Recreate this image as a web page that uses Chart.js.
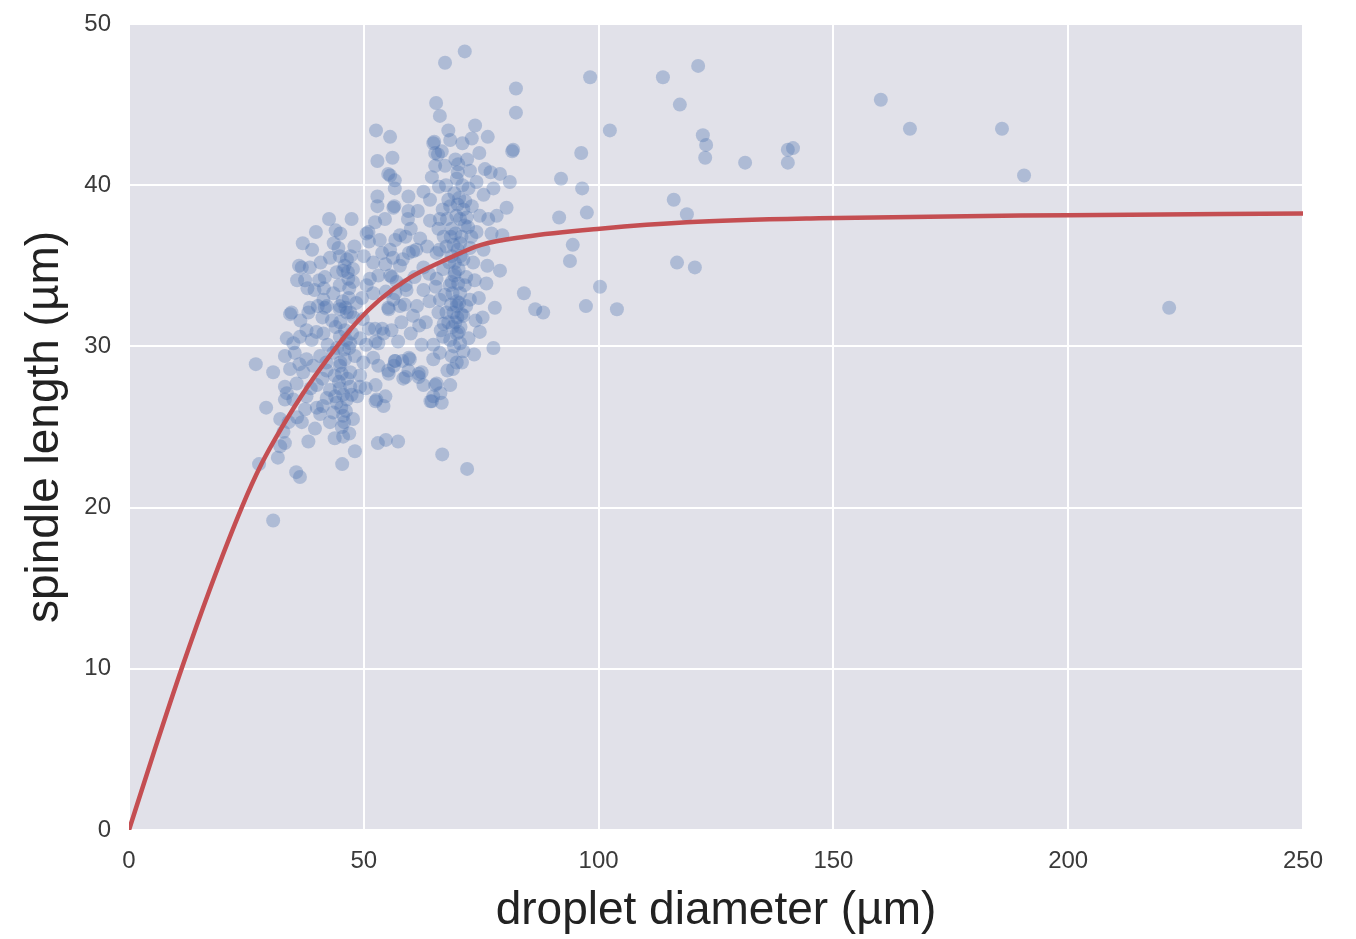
<!DOCTYPE html>
<html>
<head>
<meta charset="utf-8">
<script src="https://cdn.jsdelivr.net/npm/chart.js@4.4.1/dist/chart.umd.min.js"></script>
<style>
  html, body { margin: 0; padding: 0; background: #fff; }
  canvas { display: block; }
</style>
</head>
<body>
<canvas id="spindleChart" width="1356" height="939"></canvas>
<script>
/* ---- data: [droplet diameter µm, spindle length µm] ---- */

// isolated points, away from the main cloud
const outlierPoints = [
  [27.0,28.9],[30.7,28.4],[29.2,26.2],[27.7,22.7],[30.7,19.2],[31.7,23.1],[35.6,22.2],[36.4,21.9],
  [45.4,22.7],[48.1,23.5],[53.0,24.0],[54.7,24.2],[57.3,24.1],[66.7,23.3],[72.0,22.4],
  [71.5,48.3],[67.3,47.6],[65.4,45.1],[66.2,44.3],[52.6,43.4],[55.6,43.0],[73.7,43.7],[76.4,43.0],
  [73.0,42.9],[82.4,46.0],[82.4,44.5],[81.8,42.2],[81.6,42.1],
  [98.2,46.7],[113.7,46.7],[121.2,47.4],[117.3,45.0],[102.4,43.4],[122.2,43.1],[122.9,42.5],[122.7,41.7],
  [96.3,42.0],[131.2,41.4],[140.3,42.2],[141.4,42.3],[140.3,41.4],[160.1,45.3],[166.3,43.5],
  [185.9,43.5],[190.6,40.6],[221.5,32.4],
  [92.0,40.4],[96.5,39.8],[116.0,39.1],[118.8,38.2],[91.6,38.0],[97.5,38.3],[94.5,36.3],[93.9,35.3],
  [84.1,33.3],[86.5,32.3],[88.2,32.1],[97.3,32.5],[100.3,33.7],[103.9,32.3],[116.7,35.2],[120.5,34.9]
];

// left cluster (about 33-53 µm)
const leftCluster = [
  [52.9,41.5],[52.9,39.3],[52.9,38.7],[42.6,37.9],[47.4,37.9],[44.0,37.2],[50.6,37.0],[52.4,37.7],
  [36.8,34.9],[38.5,34.9],[35.8,34.1],[37.5,34.1],[41.7,34.3],[42.8,35.5],[44.9,35.6],[46.4,35.4],
  [47.7,34.8],[45.6,34.7],[44.2,34.6],[46.7,34.2],[47.7,34.0],[44.9,33.8],[43.5,33.3],[41.4,32.9],
  [34.6,32.1],[38.5,32.4],[42.1,32.5],[44.9,32.3],[46.4,32.1],[52.0,35.2],[53.1,34.4],[51.3,34.2],
  [52.0,33.3],[50.6,33.8],
  [34.3,32.0],[38.2,32.1],[41.7,32.4],[44.9,32.5],[47.1,32.1],[33.6,30.5],[36.4,30.6],[38.9,30.4],
  [41.4,30.8],[44.9,30.6],[47.1,30.2],[49.2,30.5],[52.4,31.1],[53.1,30.2],[33.2,29.4],[35.3,29.6],
  [37.8,29.2],[40.7,29.4],[43.5,29.6],[46.0,29.2],[48.1,29.4],[52.0,29.3],[34.3,28.6],[37.1,28.4],
  [42.1,28.5],[44.9,28.8],[47.1,28.4],[49.2,28.2],[53.1,28.8],[33.2,27.5],[35.7,27.7],[40.0,27.6],
  [42.8,27.3],[44.9,27.4],[47.1,27.5],[33.2,26.7],[35.0,26.7],[37.8,26.9],[42.1,26.8],[44.2,26.5],
  [46.4,26.7],[52.7,26.7],[37.5,26.1],[40.7,25.8],[43.5,25.9],[45.6,25.7],[32.2,25.5],[36.8,25.3],
  [39.6,24.9],[42.8,25.3],[45.3,25.0],[32.9,24.7],[45.6,24.4],[38.2,24.1],[32.2,23.8],[33.6,27.1],
  [49.2,27.5],
  [45.0,31.5],[46.0,31.0],[45.5,32.8],[46.8,33.0],[44.0,31.2],[45.8,29.8],[46.5,28.0],[45.2,26.2],
  [46.2,26.0],[44.7,27.8],[47.5,30.8],[43.2,31.6],[45.9,35.0],[46.6,34.6],[44.6,36.1],[47.8,31.8],
  [45.0,29.0],[46.9,29.9],[43.8,28.2],[45.6,27.0],[48.0,36.2],[41.2,31.8],[40.2,32.5],[39.5,33.5],
  [40.5,34.1],[36.5,31.6],[37.8,31.0],[39.9,30.9],[42.3,30.1],[39.2,28.8],[41.2,28.0],[38.7,27.4],
  [36.3,28.9],[35.0,30.2],[42.0,29.0],[43.9,26.9],[41.3,26.3],[40.0,26.2],[47.7,25.5],[46.9,24.6],
  [43.8,24.3],[35.8,25.6],[34.0,25.3],[33.2,24.0],[39.0,36.0],[37.0,36.4],[45.0,37.0],[50.0,35.6],
  [49.6,33.0],[49.8,31.7],[48.4,32.7],[50.5,30.1],[48.6,26.9],[49.9,29.0],
  [46.3,30.4],[45.3,28.3],[46.1,32.4],[47.2,35.6],[44.3,29.9],[47.4,27.0],[45.8,25.3],[46.9,33.6],
  [36.2,35.0],[38.0,33.6],[40.8,35.2],[43.6,36.4],[39.8,37.1],[41.5,33.6]
];

// middle band (about 50-62 µm)
const middleCluster = [
  [56.1,41.7],[55.2,40.7],[56.6,40.3],[56.6,39.8],[59.5,39.3],[56.3,38.6],[59.5,38.4],[54.5,37.9],
  [57.7,36.9],[62.0,36.7],[53.4,36.6],[55.6,36.0],[60.5,35.9],[57.7,35.0],[55.6,34.4],[59.1,33.5],
  [56.3,32.9],[61.3,32.5],[55.2,32.4],[57.7,32.5],[60.5,31.9],[58.0,31.5],[54.2,30.8],[56.6,29.1],
  [59.8,29.2],[55.2,28.5],[59.5,28.5],[58.4,28.0],[54.2,26.3],[55.6,40.6],[56.5,38.7],[51.0,37.1],
  [51.1,36.5],[56.7,36.6],[58.9,36.8],[59.6,35.8],[53.9,35.8],[54.6,35.1],[56.0,34.3],[58.9,33.8],
  [56.7,33.3],[55.3,32.3],[51.1,31.1],[53.9,31.1],[52.5,30.3],[56.7,29.1],[59.6,29.3],[58.9,28.1],
  [52.5,27.6],[54.6,26.9],[52.5,26.6],[50.4,27.4],[58.2,29.1],[61.7,28.3],[56.4,28.8],[55.3,28.3],
  [60.0,37.3],[61.2,36.0],[58.3,35.4],[57.0,34.0],[60.8,34.3],[58.7,32.6],[60.0,30.8],[57.3,30.3],
  [61.8,31.3],[55.9,31.0],[56.2,35.5],[54.7,33.4],[59.4,37.9],[61.5,38.4]
];

// right cluster (about 62-82 µm)
const rightCluster = [
  [64.8,42.6],[68.4,42.8],[66.6,42.1],[65.2,42.0],[74.6,42.0],[65.2,41.2],[67.3,41.2],[70.1,41.3],
  [72.6,40.9],[64.5,40.5],[69.8,40.4],[74.0,40.2],[79.0,40.7],[81.1,40.2],[77.6,39.8],[62.7,39.6],
  [64.1,39.1],[68.0,39.1],[72.3,39.8],[75.5,39.4],[68.4,38.7],[71.2,38.5],[80.4,38.6],[66.2,37.9],
  [70.5,37.9],[74.7,38.1],[76.5,37.9],[65.9,37.3],[68.7,37.3],[71.5,37.5],[74.0,37.1],[77.2,37.0],
  [67.6,36.2],[70.5,36.4],[72.6,36.1],[65.5,35.8],[68.7,35.6],[71.2,35.4],[73.3,35.2],[79.0,34.7],
  [62.7,34.9],[66.9,34.8],[69.4,34.6],[65.5,34.2],[68.7,34.0],[71.5,33.8],[76.1,33.9],[62.7,33.5],
  [66.2,32.9],[69.8,32.8],[72.6,32.9],[77.9,32.4],[67.6,32.1],[70.8,32.0],[65.9,32.1],[69.1,32.1],
  [71.2,31.9],[69.8,32.5],[74.7,30.9],[77.6,29.9],[62.3,30.1],[64.8,30.1],[66.9,30.6],[69.8,30.8],
  [71.2,29.7],[66.2,29.6],[68.7,29.4],[69.8,29.0],[64.8,29.2],[62.3,28.4],[62.7,27.6],[65.5,27.7],
  [68.4,27.6],[64.8,26.9],[66.6,26.5],[64.5,26.6],[65.0,42.7],[61.7,28.1],[65.2,27.6],[64.2,26.6],
  [66.3,27.1],
  [68.5,36.8],[69.5,37.0],[70.0,36.0],[68.2,35.2],[69.3,34.4],[70.1,33.9],[68.9,33.3],[70.5,33.3],
  [71.8,34.3],[68.0,31.5],[69.5,31.5],[70.6,31.2],[68.4,30.4],[70.5,30.2],[69.2,30.0],[67.0,31.4],
  [71.8,32.5],[70.0,38.8],[69.3,39.5],[71.0,40.0],[67.5,40.0],[66.8,38.5],[70.3,39.2],[69.5,41.6],
  [71.9,38.0],[73.0,38.7],[72.9,36.8],[67.0,36.8],[66.1,36.0],[65.3,33.7],[67.3,33.2],[66.4,31.0],
  [72.3,30.5],[73.8,31.6],[73.6,34.1],[72.2,37.4],[69.0,28.6],[70.9,29.0],[67.8,28.5],[70.2,34.8],
  [69.9,31.8],[68.6,32.6],[70.8,36.8],[71.6,39.0],[67.7,37.9],[66.0,39.9],[64.1,37.8],[63.5,36.2],
  [63.9,34.5],[64.0,32.8],[63.2,31.5],[65.8,41.9],[68.0,43.4],[71.0,42.6],[72.0,41.6],[70.0,40.8],
  [75.8,41.0],[77.0,40.8],[78.3,38.1],[75.5,36.0],[76.3,35.0],[74.5,33.0],[75.3,31.8],[73.5,29.5],
  [79.5,36.9],
  [69.4,35.2],[70.3,32.7],[68.9,31.2],[69.7,38.1],[70.6,35.6],[69.1,36.3],[70.2,30.9],[68.3,33.8]
];

// fitted curve, read at points along the red line
const fitDiameter = [0, 5.5, 11.2, 17.3, 24.0, 28.2, 32.6, 38.0, 44.0, 48.5, 53.4, 60.0, 67.6, 75.0, 84.3, 100.3, 118.8, 147.0, 200.0, 250.0];
const fitLength   = [0, 5.0, 10.0, 15.0, 20.0, 22.7, 25.0, 27.5, 29.9, 31.5, 32.9, 34.3, 35.4, 36.3, 36.8, 37.3, 37.7, 37.95, 38.14, 38.24];

const xTicks = [0, 50, 100, 150, 200, 250];
const yTicks = [0, 10, 20, 30, 40, 50];

/* ---- build datasets ---- */
const scatterData = [...outlierPoints, ...leftCluster, ...middleCluster, ...rightCluster]
  .map(p => ({ x: p[0], y: p[1] }));
const curveData = fitDiameter.map((d, i) => ({ x: d, y: fitLength[i] }));

// seaborn darkgrid background behind the plot area
const plotBackground = {
  id: 'plotBackground',
  beforeDraw(chart) {
    const { ctx, chartArea: a } = chart;
    ctx.save();
    ctx.fillStyle = '#e1e1e9';
    ctx.fillRect(a.left, a.top, a.right - a.left, a.bottom - a.top);
    ctx.restore();
  }
};

const tickFont  = { family: "'Liberation Sans', Arial, sans-serif", size: 24 };
const titleFont = { family: "'Liberation Sans', Arial, sans-serif", size: 46 };

new Chart(document.getElementById('spindleChart'), {
  type: 'scatter',
  data: {
    datasets: [
      {
        label: 'fit',
        data: curveData,
        showLine: true,
        borderColor: '#c44e52',
        borderWidth: 4.5,
        pointRadius: 0,
        cubicInterpolationMode: 'monotone',
        order: 0
      },
      {
        label: 'droplets',
        data: scatterData,
        backgroundColor: 'rgba(76,114,176,0.34)',
        borderWidth: 0,
        pointRadius: 7,
        order: 1
      }
    ]
  },
  options: {
    responsive: false,
    animation: false,
    layout: { padding: { top: 24, right: 53, left: 0, bottom: 0 } },
    plugins: { legend: { display: false }, tooltip: { enabled: false } },
    scales: {
      x: {
        type: 'linear',
        min: 0, max: 250,
        afterBuildTicks: s => { s.ticks = xTicks.map(v => ({ value: v })); },
        afterFit: s => { s.height = 109; s.paddingLeft = 0; s.paddingRight = 0; },
        grid: { color: '#ffffff', lineWidth: 2, drawTicks: false },
        border: { display: false },
        ticks: { color: '#3a3a3a', font: tickFont, padding: 17, maxRotation: 0 },
        title: {
          display: true, text: 'droplet diameter (µm)',
          color: '#222', font: titleFont, padding: { top: 0, bottom: 0 }
        }
      },
      y: {
        type: 'linear',
        min: 0, max: 50,
        afterBuildTicks: s => { s.ticks = yTicks.map(v => ({ value: v })); },
        afterFit: s => { s.width = 129; s.paddingTop = 0; s.paddingBottom = 0; },
        grid: { color: '#ffffff', lineWidth: 2, drawTicks: false },
        border: { display: false },
        ticks: { color: '#3a3a3a', font: tickFont, padding: 18 },
        title: {
          display: true, text: 'spindle length (µm)',
          color: '#222', font: titleFont, padding: { top: 18, bottom: 0 }
        }
      }
    }
  },
  plugins: [plotBackground]
});
</script>
</body>
</html>
